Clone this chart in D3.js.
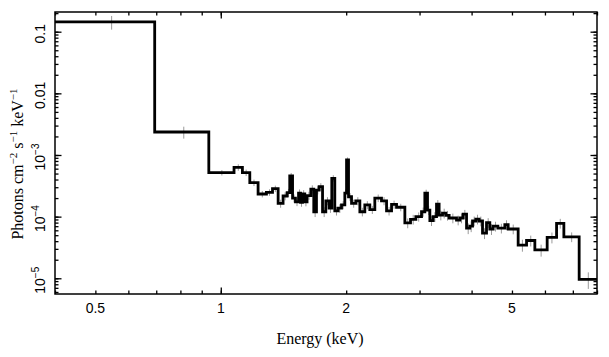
<!DOCTYPE html>
<html><head><meta charset="utf-8">
<script src="https://cdn.jsdelivr.net/npm/d3@7"></script>
<style>body{margin:0;background:#fff}</style>
</head><body>
<svg id="chart" width="609" height="357"></svg>
<script>
// Energy bin edges (keV)
const binEdges = [0.4, 0.694, 0.936, 1.076, 1.127, 1.174, 1.229, 1.287, 1.331, 1.373,
  1.411, 1.443, 1.464, 1.487, 1.511, 1.537, 1.554, 1.571, 1.591, 1.611,
  1.645, 1.672, 1.697, 1.722, 1.755, 1.787, 1.820, 1.847, 1.878, 1.913,
  1.949, 1.985, 2.004, 2.026, 2.060, 2.109, 2.157, 2.217, 2.279, 2.343,
  2.431, 2.500, 2.570, 2.642, 2.766, 2.854, 2.939, 3.033, 3.089, 3.135,
  3.176, 3.234, 3.295, 3.343, 3.406, 3.469, 3.533, 3.680, 3.748, 3.817,
  3.890, 3.961, 4.021, 4.095, 4.170, 4.249, 4.344, 4.424, 4.506, 4.625,
  4.807, 4.896, 5.174, 5.420, 5.674, 6.074, 6.398, 6.661, 7.249, 8.0];
// Photons cm^-2 s^-1 keV^-1 per bin
const flux = [0.144, 2.36e-3, 5.17e-4, 6.3e-4, 5.17e-4, 3.56e-4, 2.33e-4, 2.48e-4, 2.84e-4,
  1.64e-4, 2.16e-4, 2.45e-4, 4.56e-4, 1.99e-4, 1.74e-4, 2.4e-4, 1.7e-4, 2.33e-4, 1.73e-4,
  2.2e-4, 2.8e-4, 1.2e-4, 2.7e-4, 3.06e-4, 1.2e-4, 1.8e-4, 1.37e-4, 4.19e-4, 1.24e-4,
  1.37e-4, 1.55e-4, 2.4e-4, 8.3e-4, 2.1e-4, 1.64e-4, 1.8e-4, 1.2e-4, 1.55e-4, 1.3e-4,
  2.0e-4, 1.8e-4, 1.24e-4, 1.58e-4, 1.42e-4, 7.9e-5, 9.06e-5, 1.0e-4, 1.2e-4, 2.4e-4,
  1.28e-4, 8.6e-5, 1.0e-4, 1.6e-4, 1.06e-4, 1.14e-4, 1.05e-4, 9.5e-5, 8.8e-5, 9.5e-5,
  1.1e-4, 6.5e-5, 7.0e-5, 8.5e-5, 9.1e-5, 8.5e-5, 5.4e-5, 8.0e-5, 6.3e-5, 7.0e-5,
  6.5e-5, 7.4e-5, 6.3e-5, 3.46e-5, 4.1e-5, 2.88e-5, 4.6e-5, 7.8e-5, 4.7e-5, 9.6e-6];
// relative 1-sigma errors per bin
const relErr = [0.25, 0.22,
  0.10, 0.12, 0.12, 0.12, 0.12, 0.12, 0.12,
  0.15, 0.15, 0.15, 0.12, 0.15, 0.15, 0.15, 0.15, 0.15, 0.15,
  0.15, 0.15, 0.18, 0.15, 0.14, 0.18, 0.15, 0.16, 0.12, 0.16,
  0.16, 0.15, 0.15, 0.10, 0.15, 0.15, 0.15, 0.16, 0.15, 0.15,
  0.14, 0.15, 0.16, 0.15, 0.14,
  0.18, 0.18, 0.17, 0.17, 0.14, 0.17, 0.18, 0.18, 0.16, 0.18,
  0.18, 0.18, 0.18, 0.18, 0.18, 0.17, 0.20, 0.20, 0.18, 0.18,
  0.18, 0.20, 0.18, 0.20, 0.18, 0.18, 0.18, 0.18,
  0.22, 0.20, 0.22, 0.20, 0.18, 0.18, 0.30];
const xTickValues = [0.5, 1, 2, 5];
const xTickLabels = ["0.5", "1", "2", "5"];
const yTickValues = [1e-5, 1e-4, 1e-3, 0.01, 0.1];
const yTickLabels = [["10", "\u22125"], ["10", "\u22124"], ["10", "\u22123"], ["0.01", ""], ["0.1", ""]];
const xTitle = "Energy (keV)";

const L = 55, R = 597, T = 12, B = 294;
const x = d3.scaleLog().domain([0.4, 8]).range([L, R]);
const y = d3.scaleLog().domain([5.56e-6, 0.2087]).range([B, T]);
const svg = d3.select("#chart");
const sans = "'Liberation Sans', Arial, Helvetica, sans-serif";
const serif = "'Liberation Serif', 'Times New Roman', serif";

svg.append("defs").append("clipPath").attr("id", "clip")
  .append("rect").attr("x", L).attr("y", T).attr("width", R - L).attr("height", B - T);

// ticks (inward) via d3 axes
const xAll = x.ticks();
const xMajor = xAll.filter(v => Math.abs(Math.log10(v) - Math.round(Math.log10(v))) < 1e-9);
const yAll = y.ticks();
const yMajor = yAll.filter(v => Math.abs(Math.log10(v) - Math.round(Math.log10(v))) < 1e-9);
function styleAxis(g) {
  g.select(".domain").remove();
  g.selectAll("line").attr("stroke", "#000").attr("stroke-width", 1.3);
  g.selectAll("text").remove();
}
[[xAll, 3.5], [xMajor, 6.5]].forEach(([vals, len]) => {
  svg.append("g").attr("transform", `translate(0,${B})`).call(d3.axisBottom(x).tickValues(vals).tickSize(-len)).call(styleAxis);
  svg.append("g").attr("transform", `translate(0,${T})`).call(d3.axisTop(x).tickValues(vals).tickSize(-len)).call(styleAxis);
});
[[yAll, 3.5], [yMajor, 6.5]].forEach(([vals, len]) => {
  svg.append("g").attr("transform", `translate(${L},0)`).call(d3.axisLeft(y).tickValues(vals).tickSize(-len)).call(styleAxis);
  svg.append("g").attr("transform", `translate(${R},0)`).call(d3.axisRight(y).tickValues(vals).tickSize(-len)).call(styleAxis);
});

// data
const bins = flux.map((v, i) => ({x0: binEdges[i], x1: binEdges[i + 1], v, e: relErr[i]}));
const plot = svg.append("g").attr("clip-path", "url(#clip)");
const eg = plot.append("g").attr("stroke", "#9a9a9a").attr("stroke-width", 1);
eg.selectAll("line.h").data(bins).join("line").attr("class", "h")
  .attr("x1", d => x(d.x0)).attr("x2", d => x(d.x1))
  .attr("y1", d => y(d.v)).attr("y2", d => y(d.v));
eg.selectAll("line.v").data(bins).join("line").attr("class", "v")
  .attr("x1", d => x((d.x0 + d.x1) / 2)).attr("x2", d => x((d.x0 + d.x1) / 2))
  .attr("y1", d => y(d.v * (1 - d.e))).attr("y2", d => y(d.v * (1 + d.e)));

const pts = bins.map(d => [d.x0, d.v]);
pts.push([bins[bins.length - 1].x1, bins[bins.length - 1].v]);
plot.append("path").datum(pts)
  .attr("d", d3.line().x(d => x(d[0])).y(d => y(d[1])).curve(d3.curveStepAfter))
  .attr("fill", "none").attr("stroke", "#000").attr("stroke-width", 2.8)
  .attr("stroke-linejoin", "miter");

// frame
svg.append("rect").attr("x", L).attr("y", T).attr("width", R - L).attr("height", B - T)
  .attr("fill", "none").attr("stroke", "#000").attr("stroke-width", 1.5);

// x tick labels
svg.append("g").selectAll("text").data(xTickValues).join("text")
  .attr("x", d => x(d)).attr("y", 313)
  .attr("text-anchor", "middle").attr("font-family", sans).attr("font-size", 14)
  .text((d, i) => xTickLabels[i]);

// y tick labels (rotated)
const yl = svg.append("g").selectAll("text").data(yTickValues).join("text")
  .attr("transform", d => `translate(45,${y(d) + 2}) rotate(-90)`)
  .attr("text-anchor", "middle").attr("font-family", sans).attr("font-size", 14);
yl.each(function(d, i) {
  const t = d3.select(this);
  t.append("tspan").text(yTickLabels[i][0]);
  if (yTickLabels[i][1]) t.append("tspan").attr("dy", -6).attr("font-size", 10).text(yTickLabels[i][1]);
});

// axis titles
svg.append("text").attr("x", 320).attr("y", 344).attr("text-anchor", "middle")
  .attr("font-family", serif).attr("font-size", 16).text(xTitle);
const yt = svg.append("text").attr("transform", "translate(23,164) rotate(-90)")
  .attr("text-anchor", "middle").attr("font-family", serif).attr("font-size", 16);
yt.append("tspan").text("Photons cm");
yt.append("tspan").attr("dy", -6).attr("font-size", 11).text("\u22122");
yt.append("tspan").attr("dy", 6).text(" s");
yt.append("tspan").attr("dy", -6).attr("font-size", 11).text("\u22121");
yt.append("tspan").attr("dy", 6).text(" keV");
yt.append("tspan").attr("dy", -6).attr("font-size", 11).text("\u22121");
</script>
</body></html>
